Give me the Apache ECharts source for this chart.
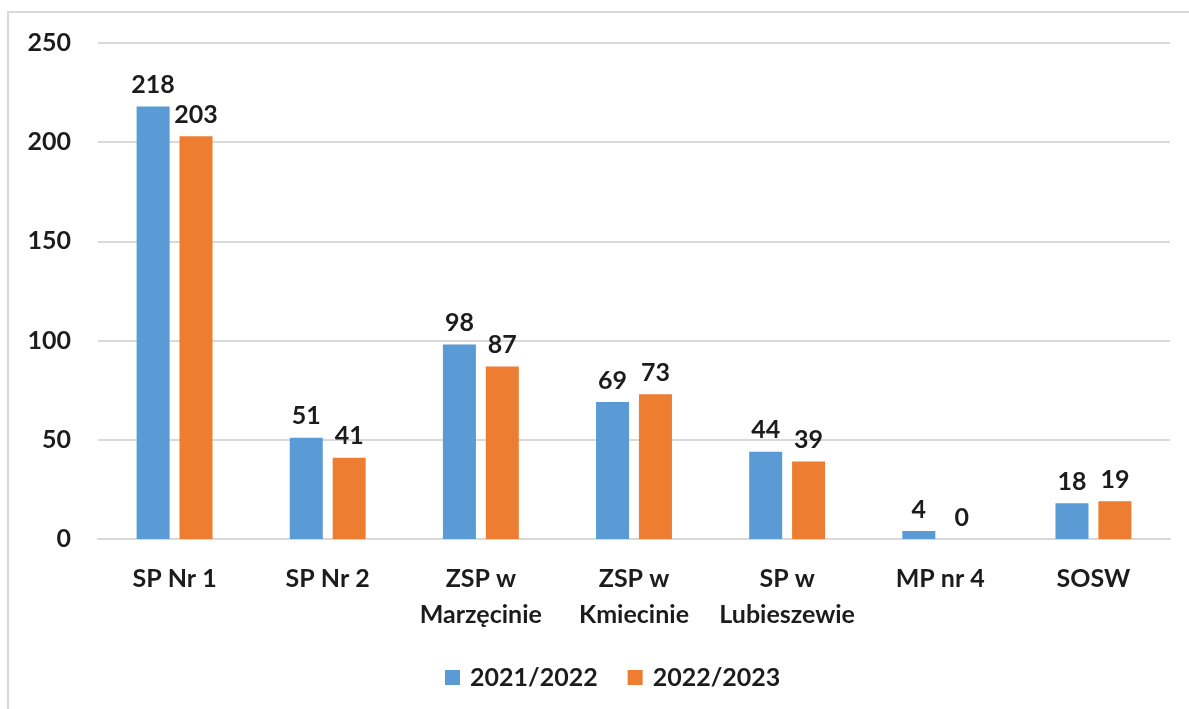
<!DOCTYPE html>
<html>
<head>
<meta charset="utf-8">
<script src="https://cdn.jsdelivr.net/npm/echarts@6/dist/echarts.min.js"></script>
<style>
  html, body { margin: 0; padding: 0; background: #fff; }
  #chart { width: 1189px; height: 709px; }
</style>
</head>
<body>
<div id="chart"></div>
<script>
const categories = ['SP Nr 1', 'SP Nr 2', 'ZSP w\nMarzęcinie', 'ZSP w\nKmiecinie', 'SP w\nLubieszewie', 'MP nr 4', 'SOSW'];
const seriesNames = ['2021/2022', '2022/2023'];
const values2021 = [218, 51, 98, 69, 44, 4, 18];
const values2022 = [203, 41, 87, 73, 39, 0, 19];
const colors = ['#5B9BD5', '#ED7D31'];

const font = 'Lato, "Open Sans", sans-serif';
const textColor = '#1c1c1c';

let chartInstance = echarts.init(document.getElementById('chart'));

const labelStyle = {
  show: true,
  position: 'top',
  distance: 9,
  color: textColor,
  fontFamily: font,
  fontWeight: 'bold',
  fontSize: 25
};

const option = {
  animation: false,
  graphic: [
    {
      type: 'rect',
      shape: { x: 8, y: 12, width: 1200, height: 720 },
      style: { fill: 'none', stroke: '#d9d9d9', lineWidth: 2 }
    }
  ],
  legend: {
    data: seriesNames,
    left: 440,
    top: 660,
    itemWidth: 15,
    itemHeight: 15,
    itemGap: 30,
    icon: 'rect',
    textStyle: {
      color: textColor,
      fontFamily: font,
      fontWeight: 'bold',
      fontSize: 25,
      padding: [0, 0, 0, 5]
    }
  },
  grid: {
    left: 98,
    right: 19,
    top: 43,
    bottom: 170
  },
  xAxis: {
    type: 'category',
    data: categories,
    axisTick: { show: false },
    axisLine: { lineStyle: { color: '#d9d9d9', width: 2 } },
    axisLabel: {
      color: textColor,
      fontFamily: font,
      fontWeight: 'bold',
      fontSize: 25,
      lineHeight: 36,
      margin: 22,
      interval: 0
    }
  },
  yAxis: {
    type: 'value',
    min: 0,
    max: 250,
    interval: 50,
    axisLine: { show: false },
    axisTick: { show: false },
    splitLine: { lineStyle: { color: '#d9d9d9', width: 2 } },
    axisLabel: {
      color: textColor,
      fontFamily: font,
      fontWeight: 'bold',
      fontSize: 25,
      margin: 27
    }
  },
  series: [
    {
      name: seriesNames[0],
      type: 'bar',
      data: values2021,
      barWidth: 33,
      barGap: '30%',
      itemStyle: { color: colors[0] },
      label: labelStyle
    },
    {
      name: seriesNames[1],
      type: 'bar',
      data: values2022,
      barWidth: 33,
      barGap: '30%',
      itemStyle: { color: colors[1] },
      label: labelStyle
    }
  ]
};
chartInstance.setOption(option);
</script>
</body>
</html>
